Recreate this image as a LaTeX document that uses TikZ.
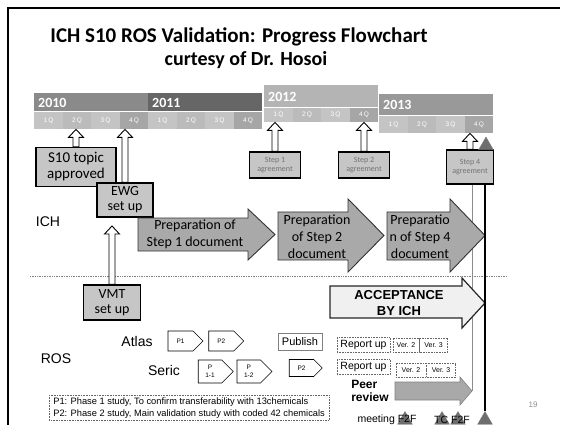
\documentclass[tikz,border=0pt]{standalone}
\usepackage{fontspec}
\setmainfont{Carlito}
\setsansfont{Liberation Sans}
\usetikzlibrary{positioning, calc, shapes.geometric, shapes.symbols}
\usepackage{xcolor}

\definecolor{yr10}{HTML}{8A8A8A}
\definecolor{yr11}{HTML}{666666}
\definecolor{yr12}{HTML}{B4B4B4}
\definecolor{yr13}{HTML}{999999}
\definecolor{qc1}{HTML}{C4C4C4}
\definecolor{qc2}{HTML}{BBBBBB}
\definecolor{qc3}{HTML}{C4C4C4}
\definecolor{qc4}{HTML}{A6A6A6}
\definecolor{boxgray}{HTML}{C6C6C6}
\definecolor{arrgray}{HTML}{A9A9A9}
\definecolor{trigray}{HTML}{6E6E6E}

% block arrow: [style] x-left, x-head, x-tip, body top, body bottom, head top, head bottom
\newcommand{\blockarr}[8][]{%
  \draw[#1] (#2,#5) -- (#3,#5) -- (#3,#7) -- (#4,{(#7+#8)/2}) -- (#3,#8) -- (#3,#6) -- (#2,#6) -- cycle;}

% hollow up arrow from a box anchor up to a target point
\newcommand{\hollowup}[2]{%
  \draw[hollow] let \p1=(#1), \p2=(#2) in
    (\x1-3pt,\y1) -- (\x1-3pt,\y2-8pt) -- (\x1-7.5pt,\y2-8pt) -- (\x1,\y2)
    -- (\x1+7.5pt,\y2-8pt) -- (\x1+3pt,\y2-8pt) -- (\x1+3pt,\y1) -- cycle;}

\begin{document}
\begin{tikzpicture}[x=1pt, y=-1pt, font=\sffamily,
    yearcell/.style={text width=106pt, inner xsep=4pt, inner ysep=0pt, align=left,
      text=white, font=\rmfamily\bfseries\fontsize{14}{14}\selectfont},
    qcell/.style={minimum width=28.5pt, inner sep=0pt, text=white,
      font=\sffamily\fontsize{6.5}{7}\selectfont},
    mbox/.style={draw=black, line width=1.3pt, fill=boxgray, align=center, inner sep=1pt,
      font=\rmfamily\fontsize{15}{16}\selectfont},
    stepbox/.style={draw=black, line width=1.2pt, fill=boxgray, align=center, inner sep=1pt,
      minimum width=51pt, minimum height=26pt, text=black!55,
      font=\rmfamily\fontsize{8}{9.5}\selectfont},
    hollow/.style={draw=black, fill=white, line width=0.9pt},
    bigarrow/.style={draw=black!80, fill=arrgray, line width=0.9pt},
    arrtext/.style={align=center, inner sep=0pt, font=\rmfamily\fontsize{14}{17}\selectfont},
    lab/.style={font=\sffamily\fontsize{14}{16}\selectfont},
    pent/.style={signal, signal to=east, draw=black, fill=white, line width=0.6pt,
      minimum width=35pt, minimum height=20pt, inner sep=0pt, align=center,
      font=\sffamily\fontsize{6.5}{7.5}\selectfont},
    dotbox/.style={draw=black!60, densely dotted, line width=0.6pt, inner sep=1pt,
      minimum height=15pt},
    tri/.style={regular polygon, regular polygon sides=3, minimum size=17pt, inner sep=0pt,
      fill=trigray, draw=black!50}]
\useasboundingbox (0,0) rectangle (568,425);
\clip (0,0) rectangle (568,425);

% slide frame
\draw[line width=1.2pt] (8,425) -- (8,8) -- (560,8);

% title
\node[font=\rmfamily\bfseries\fontsize{21}{24}\selectfont] (title) at (239,37) {ICH S10 ROS Validation: Progress Flowchart};
\node[font=\rmfamily\bfseries\fontsize{20}{22}\selectfont] (subtitle) at (246,60) {curtesy of Dr. Hosoi};

% timeline bars
\foreach \yr/\xo/\yo/\hy/\hq/\col in {2010/34/93/19/17/yr10, 2011/148/93/19/17/yr11,
    2012/264/85/23/14/yr12, 2013/379/94/22/17/yr13} {
  \node[yearcell, fill=\col, minimum height=\hy pt, anchor=north west] (y\yr) at (\xo,\yo) {\yr};
  \foreach \q in {1,...,4} {
    \node[qcell, fill=qc\q, minimum height=\hq pt, anchor=north west] (q\yr-\q)
      at ({\xo+28.5*(\q-1)},{\yo+\hy}) {\q\,Q};
  }
  \draw[white, line width=1pt] (q\yr-1.north west) -- (q\yr-4.north east);
}

% milestone boxes
\node[mbox, minimum width=80pt, minimum height=39pt] (s10) at (76,167) {S10 topic\\approved};
\node[mbox, minimum width=56pt, minimum height=34pt, font=\rmfamily\fontsize{14}{15}\selectfont] (ewg) at (125,200) {EWG\\set up};
\node[stepbox] (step1) at (275,165) {Step 1\\agreement};
\node[stepbox] (step2) at (364,165) {Step 2\\agreement};
\node[stepbox, minimum width=47pt, minimum height=34pt] (step4) at (470,167) {Step 4\\agreement};

\hollowup{s10.north}{q2010-2.south}
\hollowup{ewg.north}{q2010-4.south}
\hollowup{step1.north}{q2012-1.south}
\hollowup{step2.north}{q2012-4.south}
\hollowup{step4.north}{q2013-4.south}

% milestone marks
\node[tri] (mtop) at (486,145.5) {};
\coordinate (peertip) at (472,391);
\draw[black!45, line width=0.6pt] (step4.south -| peertip) -- (peertip);

% ICH row
\node[lab] (ich) at (48,222) {ICH};
\blockarr[bigarrow]{138}{248}{275}{218}{251}{209}{260}
\node[arrtext] (prep1) at (195,234.5) {Preparation of\\Step 1 document};
\blockarr[bigarrow]{278}{348}{384}{212}{260}{199}{272}
\node[arrtext] (prep2) at (317,236.5) {Preparation\\of Step 2\\document};
\blockarr[bigarrow]{387}{450}{485}{212}{260}{199}{272}
\node[arrtext] (prep4) at (420,236.5) {Preparatio\\n of Step 4\\document};

% ICH / ROS separator
\draw[black!50, densely dotted, line width=0.7pt] (30,276) -- (507,276);

% ROS row
\node[lab] (ros) at (56,359) {ROS};
\node[mbox, minimum width=57pt, minimum height=35pt, font=\rmfamily\fontsize{14}{15}\selectfont] (vmt) at (112,302.5) {VMT\\set up};
\coordinate (vmtend) at (112,226);
\hollowup{vmt.north}{vmtend}

\node[lab] (atlas) at (137,341) {Atlas};
\node[pent] (ap1) at (180.5,341) {P1};
\node[pent, right=5pt of ap1] (ap2) {P2};
\node[lab] (seric) at (164,370) {Seric};
\node[pent, minimum height=23pt] (sp11) at (210,371.5) {P\\1-1};
\node[pent, minimum height=23pt, right=3pt of sp11] (sp12) {P\\1-2};

\node[draw=black!50, line width=0.5pt, minimum width=44pt, minimum height=17pt, inner sep=1pt,
  font=\sffamily\fontsize{11}{12}\selectfont] (publish) at (300,342) {Publish};
\node[pent, minimum width=33pt, minimum height=17pt] (sp2) at (301.5,368) {P2};

\node[dotbox, minimum width=53pt, font=\sffamily\fontsize{10.5}{12}\selectfont] (rep1) at (363.5,345) {Report up};
\node[dotbox, minimum width=53pt, font=\sffamily\fontsize{10.5}{12}\selectfont] (rep2) at (363.5,367) {Report up};
\node[dotbox, minimum width=26pt, minimum height=14pt, font=\sffamily\fontsize{7}{8}\selectfont] (ava2) at (406,345) {Ver. 2};
\node[dotbox, minimum width=28pt, minimum height=14pt, font=\sffamily\fontsize{7}{8}\selectfont, right=0pt of ava2] (ava3) {Ver. 3};
\node[dotbox, minimum width=30pt, minimum height=14pt, font=\sffamily\fontsize{7}{8}\selectfont] (sva2) at (411,370) {Ver. 2};
\node[dotbox, minimum width=29pt, minimum height=14pt, font=\sffamily\fontsize{7}{8}\selectfont, right=0pt of sva2] (sva3) {Ver. 3};

% acceptance and peer review
\blockarr[draw=black!85, fill=black!6, line width=1.2pt]{330}{462}{485}{286}{318}{278}{328}
\node[align=center, font=\sffamily\bfseries\fontsize{13}{16}\selectfont] (accept) at (399,303.5) {ACCEPTANCE\\BY ICH};
\node[align=left, inner sep=0pt, font=\sffamily\bfseries\fontsize{12}{12.5}\selectfont] (peer) at (370,391) {Peer\\review};
\blockarr[draw=black!50, fill=arrgray, line width=0.6pt]{395}{460}{472}{382}{400}{377}{405}

% footnote
\node[draw=black!60, densely dotted, line width=0.6pt, anchor=north west,
  inner xsep=4pt, inner ysep=2.5pt, align=left, font=\sffamily\fontsize{9.3}{11.5}\selectfont] (note) at (49,395)
  {P1: Phase 1 study, To confirm transferability with 13chemicals\\
   P2: Phase 2 study, Main validation study with coded 42 chemicals};

% meetings
\node[tri] (m1) at (405,420) {};
\node[tri] (m2) at (442,420) {};
\node[tri] (m3) at (458,420) {};
\node[tri] (m4) at (485,420) {};
\node[font=\sffamily\fontsize{10.5}{12}\selectfont, inner sep=0pt] (meet) at (387,419.5) {meeting F2F};
\node[font=\sffamily\fontsize{10.5}{12}\selectfont, inner sep=0pt] (tcf) at (452,419.5) {TC F2F};
\draw[line width=1.8pt] (step4.south -| m4.north) -- (m4.north);

\node[text=black!45, font=\sffamily\fontsize{8}{9}\selectfont] (pageno) at (533,405) {19};
\end{tikzpicture}
\end{document}
